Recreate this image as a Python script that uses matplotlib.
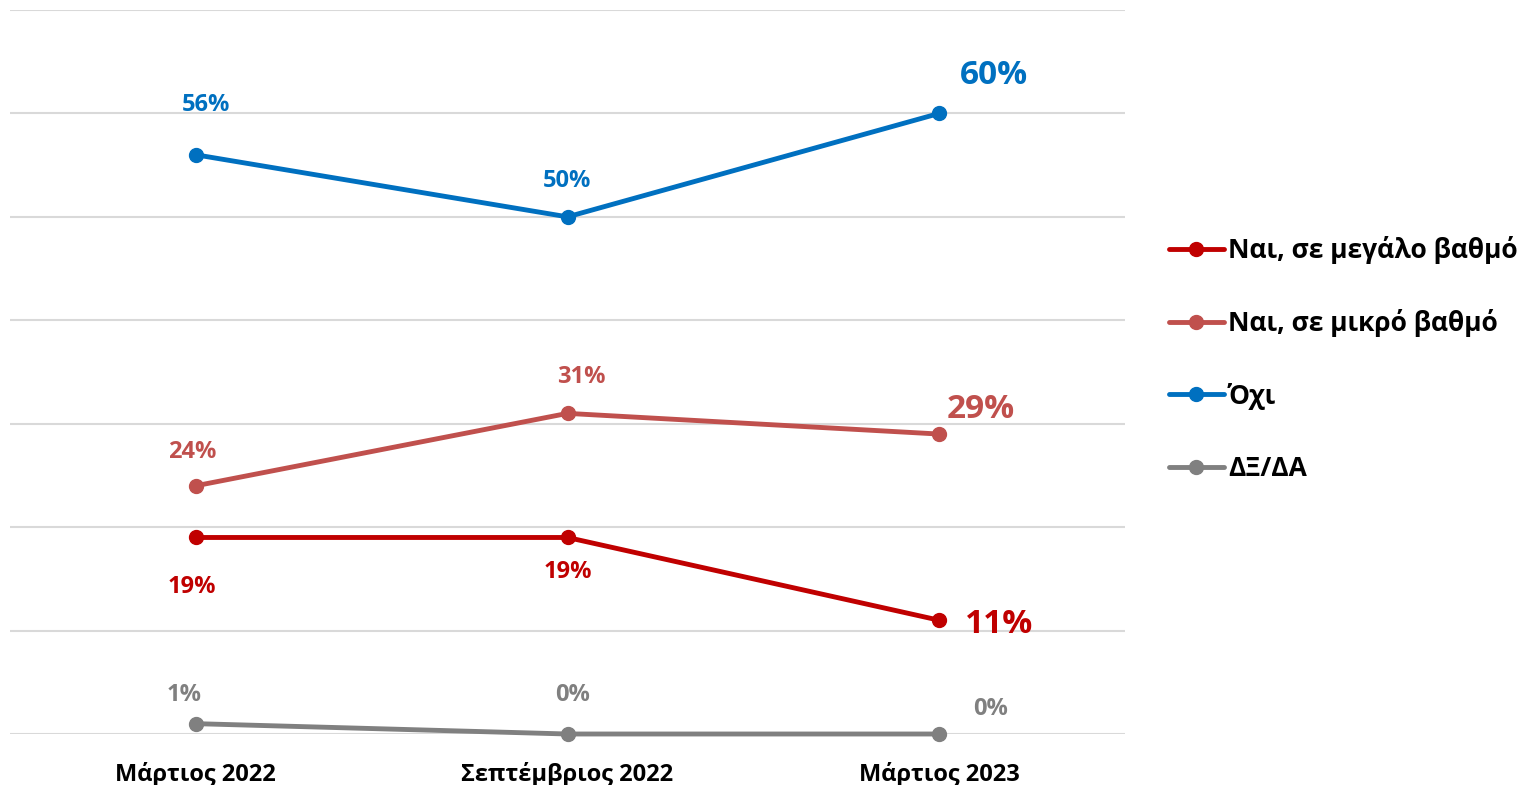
import matplotlib
matplotlib.use("Agg")
import matplotlib.pyplot as plt

plt.rcParams['font.family'] = ['Open Sans', 'Liberation Sans', 'DejaVu Sans']
plt.rcParams['font.weight'] = 'bold'

# survey waves and responses (%)
periods = ['Μάρτιος 2022', 'Σεπτέμβριος 2022', 'Μάρτιος 2023']
series_names = ['Ναι, σε μεγάλο βαθμό', 'Ναι, σε μικρό βαθμό', 'Όχι', 'ΔΞ/ΔΑ']
yes_large = [19, 19, 11]
yes_small = [24, 31, 29]
no = [56, 50, 60]
dk_na = [1, 0, 0]
colors = ['#C00000', '#C0504D', '#0070C0', '#808080']

# label offsets in pixels for each point, and font size
label_style = {
    0: [((-4, -50), 17), ((0, -35), 17), ((60, -4), 24)],
    1: [((-4, 34), 17), ((14, 36), 17), ((42, 25), 24)],
    2: [((10, 50), 17), ((0, 36), 17), ((55, 38), 24)],
    3: [((-12, 29), 17), ((5, 39), 17), ((51, 25), 17)],
}

fig = plt.figure(figsize=(15.33, 7.85), dpi=100)
ax = fig.add_axes([10 / 1533, 51 / 785, 1115 / 1533, 724 / 785])

x = list(range(len(periods)))
all_series = [yes_large, yes_small, no, dk_na]
for i, (name, vals) in enumerate(zip(series_names, all_series)):
    ax.plot(x, vals, color=colors[i], lw=3.5, marker='o', ms=10,
            label=name, solid_capstyle='round', zorder=3, clip_on=False)
    for j, v in enumerate(vals):
        (dx, dy), fs = label_style[i][j]
        ax.annotate(f'{v}%', (j, v), xytext=(dx, dy), textcoords='offset pixels',
                    ha='center', va='center', color=colors[i],
                    fontsize=fs, fontweight='bold')

ax.set_xlim(-0.5, 2.5)
ax.set_ylim(0, 70)
ax.set_yticks(range(0, 71, 10))
ax.yaxis.grid(True, color='#D9D9D9', lw=1.5)
ax.set_axisbelow(True)
ax.tick_params(axis='y', left=False, labelleft=False)
ax.tick_params(axis='x', length=0, pad=20)
ax.set_xticks(x)
ax.set_xticklabels(periods, fontsize=17, fontweight='bold')
for s in ax.spines.values():
    s.set_visible(False)

fig.legend(loc='center left', bbox_to_anchor=(1158 / 1533, 1 - 359 / 785),
           frameon=False, handlelength=2.1, handletextpad=0.15,
           labelspacing=1.72, borderaxespad=0,
           prop={'weight': 'bold', 'size': 19})

fig.savefig('out.png', dpi=100)
